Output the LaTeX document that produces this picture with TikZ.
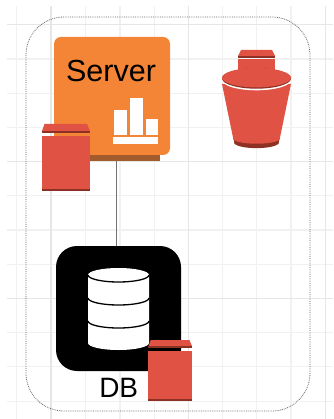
\documentclass[tikz,border=0pt]{standalone}
\usepackage{fontspec}
\setmainfont{Liberation Sans}
\definecolor{awsred}{HTML}{E05243}
\definecolor{awsdark}{HTML}{8C3123}
\definecolor{awsorange}{HTML}{F58536}
\definecolor{awsbrown}{HTML}{A35A2C}
\definecolor{gridminor}{HTML}{F1F1F1}
\definecolor{gridmajor}{HTML}{E6E6E6}
\tikzset{
	redbox/.pic={
		\fill[awsred] (3,0) -- (45.5,0) -- (48.5,7) -- (0.5,7) -- cycle;
		\fill[awsdark] (0.5,7) -- (48.5,7) -- (48.5,9) -- (0.5,9) -- cycle;
		\fill[awsred] (0,12) rectangle (48.5,65);
		\fill[awsdark] (0,65) rectangle (48.5,67);
	}
}
\begin{document}
\begin{tikzpicture}[x=1pt,y=-1pt,
	gmin/.style={gridminor,line width=1.1pt},
	gmaj/.style={gridmajor,line width=1.3pt},
	box/.style={inner sep=0pt,outer sep=0pt},
	srv/.style={box,fill=awsorange,rounded corners=7pt,minimum width=116pt,minimum height=118pt},
	dbase/.style={box,fill=black,rounded corners=21pt,minimum width=125pt,minimum height=125pt},
	bar/.style={white},
	band/.style={black,line width=1.3pt}]
	\useasboundingbox (0,0) rectangle (333,419);
	\foreach \x in {16.7,85.3,120,154.3,222.3,256.7,291}
		\draw[gmin] (\x,6) -- (\x,419);
	\foreach \y in {59,93.3,127.3,195.7,230,264.3,332.7,366.7,401.3}
		\draw[gmin] (7,\y) -- (333,\y);
	\foreach \x in {51,188.3,325.3}
		\draw[gmaj] (\x,6) -- (\x,419);
	\foreach \y in {24.3,161.3,298.3}
		\draw[gmaj] (7,\y) -- (333,\y);
	\draw[black!60,densely dotted,line width=0.8pt,rounded corners=38pt] (26,17) rectangle (310,411);
	\node[srv] (server) at (112,96) {};
	\node[dbase] (db) at (118.5,308.5) {};
	\draw[black!55,line width=1.1pt] ([xshift=4.5pt]server.south) -- ([xshift=-2pt]db.north);
	\fill[awsbrown] (88,155) rectangle (160,161.5);
	\node[box,font=\fontsize{30.5}{30.5}\selectfont] (serverlabel) at (111,71) {Server};
	\foreach \l/\t/\r in {114/110/127,130/98/142.7,145.7/119/158}
		\fill[bar] (\l,\t) rectangle (\r,135);
	\fill[bar] (113,137) rectangle (158,143.7);
	\pic at (41.5,124) {redbox};
	\fill[white] (88,275) arc[x radius=30.5,y radius=7,start angle=180,end angle=360] -- (149,343) arc[x radius=30.5,y radius=7,start angle=0,end angle=180] -- cycle;
	\foreach \y in {275,298,321}
		\draw[band] (88,\y) arc[x radius=30.5,y radius=7,start angle=180,end angle=0];
	\node[box,font=\fontsize{28}{28}\selectfont] (dblabel) at (118.7,388) {DB};
	\pic[scale=0.91] at (148,340) {redbox};
	\fill[awsred] (241,50) -- (272,50) -- (275,56) -- (238,56) -- cycle;
	\fill[awsdark] (238,56) rectangle (275,58);
	\fill[awsred] (238,59.5) rectangle (275,72);
	\fill[awsdark] (233.5,138) -- (234.5,144) .. controls (242,149.5) and (271,149.5) .. (278.5,144) -- (279.5,138) -- cycle;
	\fill[awsred] (222,84) -- (233.5,140) .. controls (242,145) and (271,145) .. (279.5,140) -- (291,84) -- cycle;
	\fill[white] (256.5,80) ellipse[x radius=34.5,y radius=10.3];
	\fill[awsdark] (256.5,78.5) ellipse[x radius=34.5,y radius=10.2];
	\fill[awsred] (256.5,77.7) ellipse[x radius=34.5,y radius=9.7];
\end{tikzpicture}
\end{document}
